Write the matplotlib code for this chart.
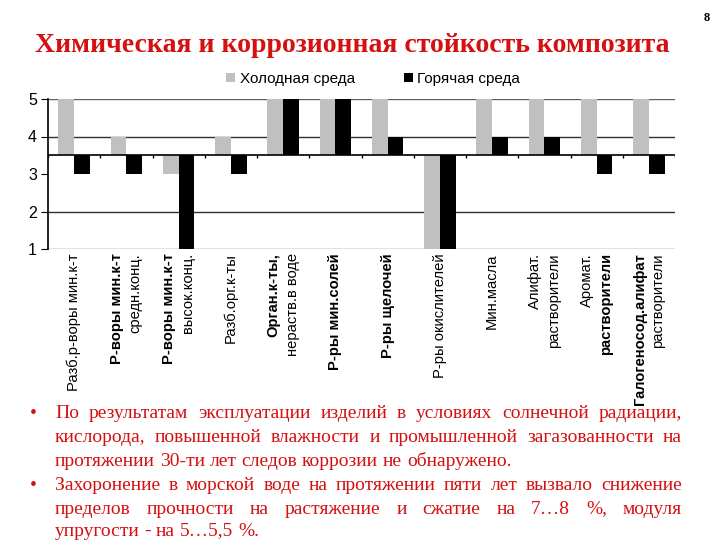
import matplotlib
matplotlib.use("Agg")
import matplotlib.pyplot as plt
import matplotlib.transforms as mtransforms
import numpy as np

# ── data ──
categories = [
    ["Разб.р-воры мин.к-т"],
    ["Р-воры мин.к-т", "средн.конц."],
    ["Р-воры мин.к-т", "высок.конц."],
    ["Разб.орг.к-ты"],
    ["Орган.к-ты,", "нераств.в воде"],
    ["Р-ры мин.солей"],
    ["Р-ры щелочей"],
    ["Р-ры окислителей"],
    ["Мин.масла"],
    ["Алифат.", "растворители"],
    ["Аромат.", "растворители"],
    ["Галогеносод.алифат", "растворители"],
]
label_weights = [
    ["normal"], ["bold", "normal"], ["bold", "normal"], ["normal"],
    ["bold", "normal"], ["bold"], ["bold"], ["normal"], ["normal"],
    ["normal", "normal"], ["normal", "bold"], ["bold", "normal"],
]
cold = [5, 4, 3, 4, 5, 5, 5, 1, 5, 5, 5, 5]
hot = [3, 3, 1, 3, 5, 5, 4, 1, 4, 4, 3, 3]
series_names = ["Холодная среда", "Горячая среда"]
base = 3.5

title = "Химическая и коррозионная стойкость композита"
paragraphs = [
    ["По результатам эксплуатации изделий в условиях солнечной радиации,",
     "кислорода, повышенной влажности и промышленной загазованности на",
     "протяжении 30-ти лет следов коррозии не обнаружено."],
    ["Захоронение в морской воде на протяжении пяти лет вызвало снижение",
     "пределов прочности на растяжение и сжатие на 7…8 %, модуля",
     "упругости - на 5…5,5 %."],
]

RED = "#D41010"
W, H = 720, 540
fig = plt.figure(figsize=(7.2, 5.4), dpi=100)
fig.patch.set_facecolor("white")

ax = fig.add_axes([48 / W, 1 - 249 / H, (675 - 48) / W, 150 / H])
x = np.arange(len(cold))
bw = 0.3
ax.bar(x - bw / 2, np.array(cold) - base, bw, bottom=base, color="#C0C0C0",
       label=series_names[0], zorder=3)
ax.bar(x + bw / 2, np.array(hot) - base, bw, bottom=base, color="black",
       label=series_names[1], zorder=3)

for g, c in [(1, "#707070"), (2, "#303030"), (4, "#303030"), (5, "#606060")]:
    ax.axhline(g, color=c, lw=1, zorder=1)
ax.axhline(base, color="black", lw=1.2, zorder=4)
ax.vlines(np.arange(len(cold) + 1) - 0.5, base - 0.08, base, color="black", lw=1, zorder=4)

ax.set_xlim(-0.5, len(cold) - 0.5)
ax.set_ylim(1, 5)
ax.set_yticks([1, 2, 3, 4, 5])
ax.tick_params(axis="y", length=5, labelsize=11.5, pad=3)
for lb in ax.get_yticklabels():
    lb.set_family("Liberation Sans")
ax.set_xticks([])
for s in ["top", "right", "bottom"]:
    ax.spines[s].set_visible(False)
ax.spines["left"].set_linewidth(1.2)

# rotated category labels
trans = mtransforms.blended_transform_factory(ax.transData, ax.transAxes)
for i, (lines, weights) in enumerate(zip(categories, label_weights)):
    n = len(lines)
    for j, (ln, wt) in enumerate(zip(lines, weights)):
        dx = (j - (n - 1) / 2) * 13.5
        t = mtransforms.offset_copy(trans, fig=fig, x=dx, y=-3, units="points")
        ax.text(i, 0, ln, transform=t, rotation=90, ha="center", va="top",
                fontsize=10.6, fontweight=wt, family="Liberation Sans")

fig.legend(loc="center", bbox_to_anchor=(0.518, 1 - 79 / H), ncol=2, frameon=False,
           prop={"family": "Liberation Sans", "size": 11},
           handlelength=0.6, handleheight=0.6, handletextpad=0.3, columnspacing=3.2)

fig.text(352 / W, 1 - 45 / H, title, ha="center", va="center", color=RED,
         fontsize=20, fontweight="bold", family="Liberation Serif")
fig.text(707 / W, 1 - 18 / H, "8", ha="center", va="center", color="black",
         fontsize=9, fontweight="bold", family="Liberation Serif")

# justified bullet text
renderer = fig.canvas.get_renderer()
left_px, right_px = 55, 682
line_y = [413, 437, 461, 486, 509, 531]
fs = 14
k = 0
for para in paragraphs:
    for li, line in enumerate(para):
        y = 1 - line_y[k] / H
        if li == 0:
            fig.text(30 / W, y, "•", ha="left", va="center", color=RED, fontsize=fs,
                     family="Liberation Serif")
        words = line.split(" ")
        last = li == len(para) - 1
        texts = [fig.text(0, y, w_, ha="left", va="center", color=RED, fontsize=fs,
                          family="Liberation Serif") for w_ in words]
        widths = [t.get_window_extent(renderer).width for t in texts]
        a2 = fig.text(0, 0, "a a", fontsize=fs, family="Liberation Serif")
        a1 = fig.text(0, 0, "aa", fontsize=fs, family="Liberation Serif")
        sp_w = a2.get_window_extent(renderer).width - a1.get_window_extent(renderer).width
        a1.remove()
        a2.remove()
        if last or len(words) == 1:
            gap = sp_w
        else:
            gap = (right_px - left_px - sum(widths)) / (len(words) - 1)
        cur = left_px
        for t, w_ in zip(texts, widths):
            t.set_x(cur / W)
            cur += w_ + gap
        k += 1

fig.savefig("out.png", dpi=100)
